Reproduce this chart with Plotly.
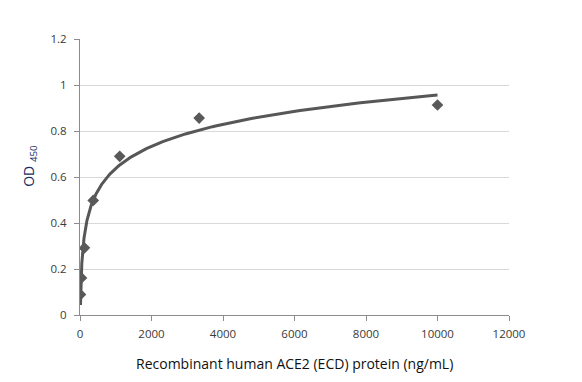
import numpy as np
import plotly.graph_objects as go

conc = [13.7, 41.2, 123.5, 370.4, 1111.1, 3333.3, 10000]
od450 = [0.089, 0.161, 0.292, 0.498, 0.690, 0.856, 0.913]
x_ticks = [0, 2000, 4000, 6000, 8000, 10000, 12000]
y_ticks = [0, 0.2, 0.4, 0.6, 0.8, 1.0, 1.2]
y_tick_labels = ["0", "0.2", "0.4", "0.6", "0.8", "1", "1.2"]

# logarithmic trend line (least squares fit of od vs ln(conc))
slope, intercept = np.polyfit(np.log(conc), od450, 1)
fit_x = np.geomspace(min(conc), max(conc), 300)
fit_y = slope * np.log(fit_x) + intercept

font = "Open Sans, Liberation Sans, sans-serif"

fig = go.Figure()
fig.add_trace(go.Scatter(x=fit_x, y=fit_y, mode="lines",
                         line=dict(color="#575757", width=3), hoverinfo="skip"))
fig.add_trace(go.Scatter(x=conc, y=od450, mode="markers",
                         marker=dict(symbol="diamond", size=9, color="#595959")))

fig.update_layout(
    width=582, height=382, showlegend=False,
    paper_bgcolor="white", plot_bgcolor="white",
    margin=dict(l=72, r=81, t=31, b=75),
    font=dict(family=font, size=11.5, color="#3a3a3a"),
    xaxis=dict(range=[0, 12000], tickvals=x_ticks, ticktext=[str(v) for v in x_ticks],
               showgrid=False, zeroline=False, showline=True, linecolor="#8c8c8c",
               ticks="outside", ticklen=5, tickcolor="#8c8c8c", fixedrange=True,
               ticklabelstandoff=3),
    yaxis=dict(range=[0, 1.2], tickvals=y_ticks, ticktext=y_tick_labels,
               showgrid=True, gridcolor="#d9d9d9", zeroline=False, showline=True,
               linecolor="#8c8c8c", ticks="outside", ticklen=5, tickcolor="#8c8c8c",
               fixedrange=True, ticklabelstandoff=5),
    annotations=[
        dict(text="Recombinant human ACE2 (ECD) protein (ng/mL)", xref="paper", yref="paper",
             x=0.5, y=-0.174, xanchor="center", yanchor="middle", showarrow=False,
             font=dict(family=font, size=14, color="#111111")),
        dict(text="OD <sub>450</sub>", xref="paper", yref="paper",
             x=-0.117, y=0.54, xanchor="center", yanchor="middle", showarrow=False,
             textangle=-90, font=dict(family=font, size=14, color="#1c2c60")),
    ],
)

fig.write_html("out.html")
